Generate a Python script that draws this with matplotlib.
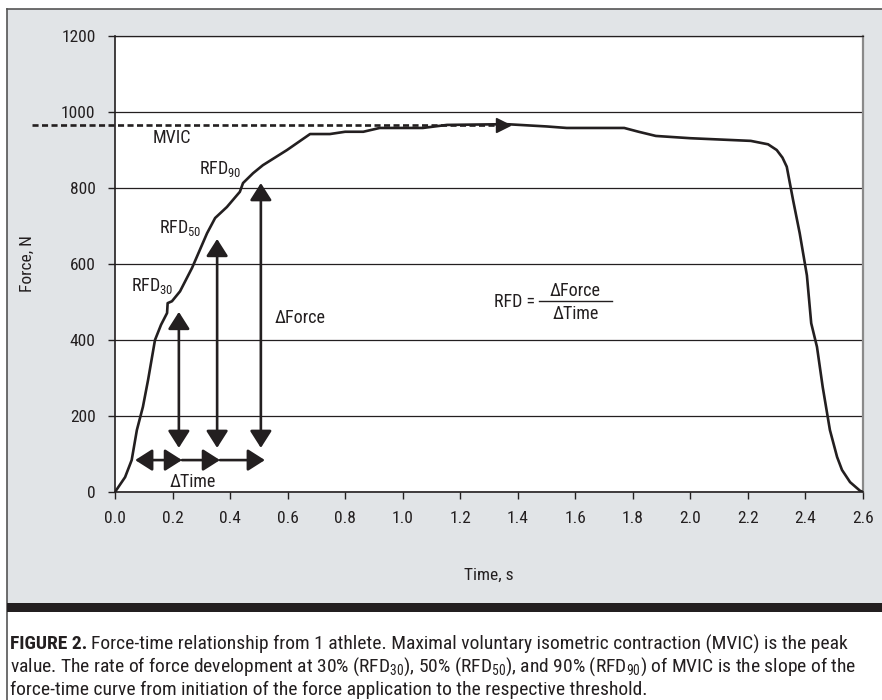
import matplotlib.pyplot as plt
from matplotlib import font_manager
from matplotlib.patches import Rectangle
from matplotlib.lines import Line2D

installed = {f.name for f in font_manager.fontManager.ttflist}
font = 'DejaVu Sans'
for cand in ['Liberation Sans Narrow', 'Roboto Condensed', 'Roboto', 'Liberation Sans']:
    if cand in installed:
        font = cand
        break

plt.rcParams['font.family'] = [font, 'DejaVu Sans']
plt.rcParams['mathtext.fontset'] = 'custom'
plt.rcParams['mathtext.rm'] = font
plt.rcParams['mathtext.it'] = font
plt.rcParams['mathtext.bf'] = font + ':bold'
plt.rcParams['mathtext.default'] = 'regular'

ink = '#231f20'
panel_gray = '#e1e4e7'

# force-time curve
time_s = [0.0, 0.035, 0.058, 0.076, 0.097, 0.115, 0.139, 0.16, 0.181, 0.183,
          0.198, 0.226, 0.268, 0.32, 0.348, 0.389, 0.434, 0.445, 0.48, 0.514,
          0.598, 0.678, 0.747, 0.8, 0.863, 0.92, 1.07, 1.154, 1.36, 1.5,
          1.57, 1.77, 1.82, 1.88, 2.0, 2.21, 2.27, 2.30, 2.32, 2.335,
          2.357, 2.38, 2.405, 2.42, 2.44, 2.46, 2.485, 2.51, 2.527, 2.555,
          2.59, 2.6]
force_n = [0, 39, 84, 163, 224, 295, 400, 440, 471, 497,
           502, 528, 590, 681, 721, 750, 790, 813, 839, 860,
           900, 942, 942, 948, 948, 958, 958, 966, 968, 962,
           958, 958, 948, 937, 931, 924, 915, 900, 880, 856,
           768, 681, 570, 444, 382, 276, 163, 92, 58, 26,
           3, 0]

mvic = 966
mvic_start, mvic_end = -0.29, 1.36

# threshold arrows (time of threshold, force at threshold)
rfd_time = [0.222, 0.355, 0.507]
rfd_force = [474, 666, 813]
arrow_floor = 116
dtime_level = 84
dtime_start = 0.07
dtime_tips = [0.233, 0.365, 0.521]

x_ticks = [0.0, 0.2, 0.4, 0.6, 0.8, 1.0, 1.2, 1.4, 1.6, 1.8, 2.0, 2.2, 2.4, 2.6]
y_ticks = [0, 200, 400, 600, 800, 1000, 1200]

caption_lines = [
    'Force-time relationship from 1 athlete. Maximal voluntary isometric contraction (MVIC) is the peak',
    r'value. The rate of force development at 30% (RFD$_{30}$), 50% (RFD$_{50}$), and 90% (RFD$_{90}$) of MVIC is the slope of the',
    'force-time curve from initiation of the force application to the respective threshold.',
]

fig = plt.figure(figsize=(8.82, 7.0), dpi=100)
W, H = 882, 700

# grey panel, black rule and border
fig.patches.append(Rectangle((7 / W, 1 - 603 / H), 1, (603 - 9) / H,
                             transform=fig.transFigure, facecolor=panel_gray,
                             edgecolor='none', zorder=-2))
fig.patches.append(Rectangle((7 / W, 1 - 612 / H), 1, 9 / H,
                             transform=fig.transFigure, facecolor=ink,
                             edgecolor='none', zorder=-1))
fig.lines.append(Line2D([7 / W, 1], [1 - 9 / H, 1 - 9 / H], transform=fig.transFigure,
                        color='#555555', lw=1.2, zorder=-1))
fig.lines.append(Line2D([7 / W, 7 / W], [0, 1 - 9 / H], transform=fig.transFigure,
                        color='#555555', lw=1.2, zorder=-1))

ax = fig.add_axes([115 / W, 1 - 492 / H, (863 - 115) / W, (492 - 36) / H])
ax.set_zorder(2)
ax.set_facecolor('white')
ax.set_xlim(0, 2.6)
ax.set_ylim(0, 1200)

ax.set_yticks(y_ticks)
ax.set_xticks(x_ticks)
ax.set_xticklabels([f'{v:.1f}' for v in x_ticks])
ax.tick_params(axis='both', colors=ink, labelcolor=ink, labelsize=12.5,
               length=5, width=1.0, direction='out')
ax.tick_params(axis='y', pad=9)
ax.tick_params(axis='x', pad=9)
ax.yaxis.grid(True, color=ink, lw=0.9)
ax.set_axisbelow(True)
for s in ['left', 'bottom']:
    ax.spines[s].set_color(ink)
    ax.spines[s].set_linewidth(1.2)
ax.spines['top'].set_color(ink)
ax.spines['top'].set_linewidth(0.9)
ax.spines['right'].set_color('#8a8a8a')
ax.spines['right'].set_linewidth(1.6)

ax.set_ylabel('Force, N', fontsize=12.5, color=ink)
ax.yaxis.set_label_coords(-0.107, 0.5)
ax.set_xlabel('Time, s', fontsize=12.5, color=ink)
ax.xaxis.set_label_coords(0.5, -0.182)
ax.xaxis.label.set_va('center')

ax.plot(time_s, force_n, color=ink, lw=1.9, solid_joinstyle='round', zorder=3)

# MVIC dashed line with arrow
ax.plot([mvic_start, mvic_end - 0.02], [mvic, mvic], color=ink, lw=1.9,
        dashes=(2.3, 1.3), clip_on=False, zorder=4)
ax.plot([mvic_end - 0.01], [mvic], marker='>', ms=10, color=ink, mec=ink, zorder=5)

arrow_kw = dict(color=ink, lw=1.9, shrinkA=0, shrinkB=0, mutation_scale=19)
for t, f in zip(rfd_time, rfd_force):
    ax.annotate('', xy=(t, f), xytext=(t, arrow_floor),
                arrowprops=dict(arrowstyle='<|-|>,head_length=0.55,head_width=0.35', **arrow_kw),
                zorder=4)

starts = [dtime_start] + dtime_tips[:-1]
for i, (a, b) in enumerate(zip(starts, dtime_tips)):
    style = '<|-|>' if i == 0 else '-|>'
    ax.annotate('', xy=(b, dtime_level), xytext=(a, dtime_level),
                arrowprops=dict(arrowstyle=style + ',head_length=0.55,head_width=0.35', **arrow_kw),
                zorder=4)

lab = dict(fontsize=13, color=ink, va='center', ha='left')
ax.text(0.132, 932, 'MVIC', **lab)
ax.text(0.292, 850, r'RFD$_{90}$', **lab)
ax.text(0.153, 696, r'RFD$_{50}$', **lab)
ax.text(0.056, 543, r'RFD$_{30}$', **lab)
ax.text(0.556, 458, '\u2206Force', **lab)
ax.text(0.191, 26, '\u2206Time', **lab)

ax.text(1.318, 500, 'RFD =', **lab)
ax.plot([1.474, 1.727], [503, 503], color=ink, lw=1.0)
ax.text(1.6, 530, '\u2206Force', fontsize=13, color=ink, ha='center', va='center')
ax.text(1.6, 469, '\u2206Time', fontsize=13, color=ink, ha='center', va='center')

# caption, sized so the first line ends where the reference's does
x0 = 10 / W
cap_size = 11.5
renderer = fig.canvas.get_renderer()
bold = fig.text(x0, 1 - 644 / H, 'FIGURE 2.', fontsize=cap_size, fontweight='bold',
                color=ink, va='center', ha='left')
first = fig.text(0, 1 - 644 / H, caption_lines[0], fontsize=cap_size, color=ink,
                 va='center', ha='left')
bw = bold.get_window_extent(renderer).width
fw = first.get_window_extent(renderer).width
cap_size = cap_size * (845 - 10) / (bw + fw + 4)
bold.set_fontsize(cap_size)
first.set_fontsize(cap_size)
bb = bold.get_window_extent(renderer)
first.set_x(bb.x1 / W + 4 / W)
fig.text(x0, 1 - 667 / H, caption_lines[1], fontsize=cap_size, color=ink,
         va='center', ha='left')
fig.text(x0, 1 - 690 / H, caption_lines[2], fontsize=cap_size, color=ink,
         va='center', ha='left')

fig.savefig('out.png', dpi=100, facecolor='white')
